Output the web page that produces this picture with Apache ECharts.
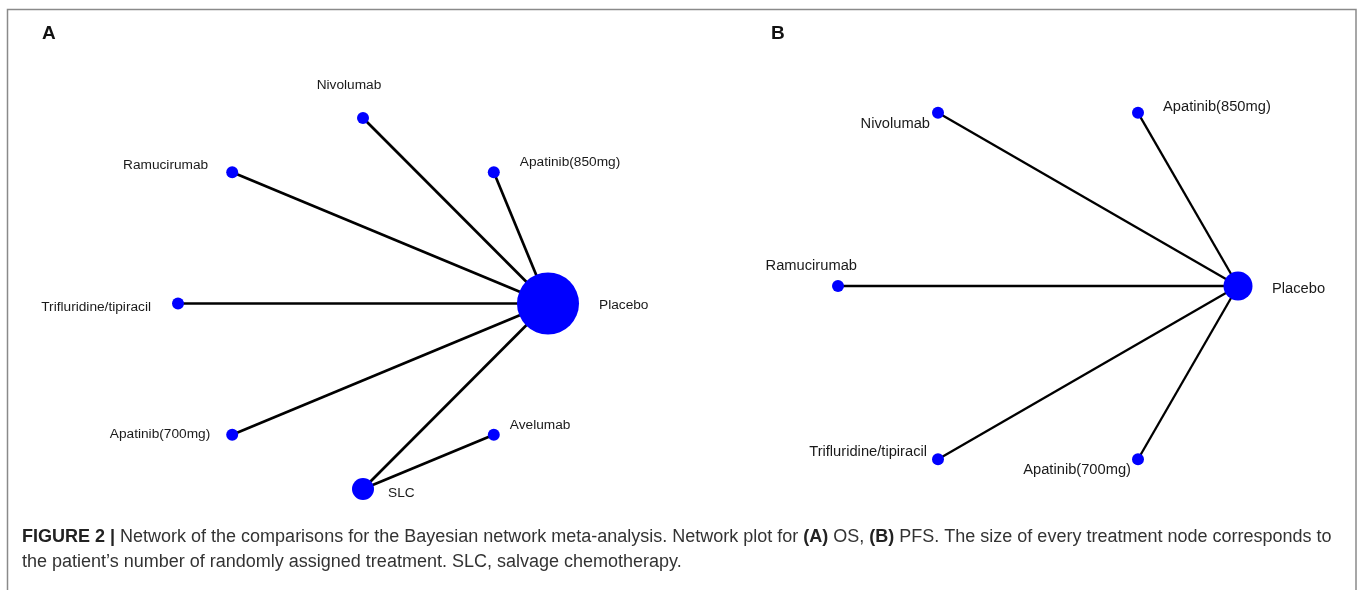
<!DOCTYPE html>
<html>
<head>
<meta charset="utf-8">
<script src="https://cdn.jsdelivr.net/npm/echarts@6/dist/echarts.min.js"></script>
<style>
html,body{margin:0;padding:0;background:#fff;}
#chart{width:1358px;height:590px;}
</style>
</head>
<body>
<div id="chart"></div>
<script>
// ---------- Data ----------
// Panel A (OS): treatment nodes, layout coordinates on a unit circle, relative node weight
const nodesA = ['Placebo', 'Nivolumab', 'Ramucirumab', 'Trifluridine/tipiracil', 'Apatinib(700mg)', 'SLC', 'Avelumab', 'Apatinib(850mg)'];
const xA = [1, 0, -0.707, -1, -0.707, 0, 0.707, 0.707];
const yA = [0, 1, 0.707, 0, -0.707, -1, -0.707, 0.707];
const weightA = [31, 6, 6, 6, 6, 11, 6, 6];
const edgesA = [
  ['Placebo', 'Nivolumab'],
  ['Placebo', 'Ramucirumab'],
  ['Placebo', 'Trifluridine/tipiracil'],
  ['Placebo', 'Apatinib(700mg)'],
  ['Placebo', 'SLC'],
  ['Placebo', 'Apatinib(850mg)'],
  ['SLC', 'Avelumab']
];

// Panel B (PFS)
const nodesB = ['Placebo', 'Apatinib(850mg)', 'Nivolumab', 'Ramucirumab', 'Trifluridine/tipiracil', 'Apatinib(700mg)'];
const xB = [1, 0.5, -0.5, -1, -0.5, 0.5];
const yB = [0, 0.866, 0.866, 0, -0.866, -0.866];
const weightB = [14.5, 6, 6, 6, 6, 6];
const edgesB = [
  ['Placebo', 'Apatinib(850mg)'],
  ['Placebo', 'Nivolumab'],
  ['Placebo', 'Ramucirumab'],
  ['Placebo', 'Trifluridine/tipiracil'],
  ['Placebo', 'Apatinib(700mg)']
];

const panelTitles = ['A', 'B'];
const captionBold = 'FIGURE 2 |';
const captionLine1 = ' Network of the comparisons for the Bayesian network meta-analysis. Network plot for ';
const captionLine2 = 'the patient\u2019s number of randomly assigned treatment. SLC, salvage chemotherapy.';

// ---------- Styling (label placement, relative to node centre) ----------
const labelA = {
  'Placebo': {align: 'left', offset: [51, 2]},
  'Nivolumab': {align: 'center', offset: [-14, -33]},
  'Ramucirumab': {align: 'right', offset: [-24, -7]},
  'Trifluridine/tipiracil': {align: 'right', offset: [-27, 4]},
  'Apatinib(700mg)': {align: 'right', offset: [-22, 0]},
  'SLC': {align: 'left', offset: [25, 4]},
  'Avelumab': {align: 'left', offset: [16, -9]},
  'Apatinib(850mg)': {align: 'left', offset: [26, -10]}
};
const labelB = {
  'Placebo': {align: 'left', offset: [34, 3]},
  'Apatinib(850mg)': {align: 'left', offset: [25, -6]},
  'Nivolumab': {align: 'right', offset: [-8, 11]},
  'Ramucirumab': {align: 'right', offset: [19, -20]},
  'Trifluridine/tipiracil': {align: 'right', offset: [-11, -7]},
  'Apatinib(700mg)': {align: 'right', offset: [-7, 11]}
};

const FONT = '"Liberation Sans", Arial, Helvetica, sans-serif';

function buildNodes(names, xs, ys, weights, labels, fontSize) {
  return names.map((n, i) => ({
    name: n,
    value: [xs[i], ys[i]],
    symbolSize: weights[i] * 2,
    label: {
      show: true,
      position: 'inside',
      align: labels[n].align,
      verticalAlign: 'middle',
      offset: labels[n].offset,
      color: '#1a1a1a',
      fontSize: fontSize,
      fontFamily: FONT,
      formatter: '{b}'
    }
  }));
}
function buildLinks(edges) {
  return edges.map(e => ({source: e[0], target: e[1]}));
}

const chart = echarts.init(document.getElementById('chart'), null, {renderer: 'canvas'});
const hiddenAxis = (type, idx) => ({
  type: 'value', gridIndex: idx, min: -1, max: 1,
  show: false, splitLine: {show: false}
});

chart.setOption({
  backgroundColor: '#ffffff',
  animation: false,
  grid: [
    {left: 178, width: 370, top: 118, height: 371},
    {left: 838, width: 400, top: 86, height: 400}
  ],
  xAxis: [hiddenAxis('x', 0), hiddenAxis('x', 1)],
  yAxis: [hiddenAxis('y', 0), hiddenAxis('y', 1)],
  graphic: [
    {type: 'rect', shape: {x: 7.5, y: 9.5, width: 1348.5, height: 600},
     style: {fill: 'none', stroke: '#8a8a8a', lineWidth: 1.5}, silent: true},
    {type: 'text', left: 42, top: 24,
     style: {text: panelTitles[0], font: 'bold 19px ' + FONT, fill: '#111'}},
    {type: 'text', left: 771, top: 24,
     style: {text: panelTitles[1], font: 'bold 19px ' + FONT, fill: '#111'}},
    {type: 'text', left: 22, top: 525,
     style: {
       text: '{b|' + captionBold + '}' + captionLine1 + '{b|(A)} OS, {b|(B)} PFS. The size of every treatment node corresponds to\n' + captionLine2,
       fill: '#333', fontSize: 18, fontFamily: FONT, lineHeight: 25,
       rich: {b: {fontWeight: 'bold', fontSize: 18, fontFamily: FONT, fill: '#222', lineHeight: 25}}
     }}
  ],
  series: [
    {
      type: 'graph', coordinateSystem: 'cartesian2d', xAxisIndex: 0, yAxisIndex: 0,
      layout: 'none', symbol: 'circle',
      itemStyle: {color: '#0000ff'},
      lineStyle: {color: '#000', width: 2.7, opacity: 1, curveness: 0},
      data: buildNodes(nodesA, xA, yA, weightA, labelA, 13.7),
      links: buildLinks(edgesA),
      z: 2
    },
    {
      type: 'graph', coordinateSystem: 'cartesian2d', xAxisIndex: 1, yAxisIndex: 1,
      layout: 'none', symbol: 'circle',
      itemStyle: {color: '#0000ff'},
      lineStyle: {color: '#000', width: 2.3, opacity: 1, curveness: 0},
      data: buildNodes(nodesB, xB, yB, weightB, labelB, 14.7),
      links: buildLinks(edgesB),
      z: 2
    }
  ]
});
</script>
</body>
</html>
